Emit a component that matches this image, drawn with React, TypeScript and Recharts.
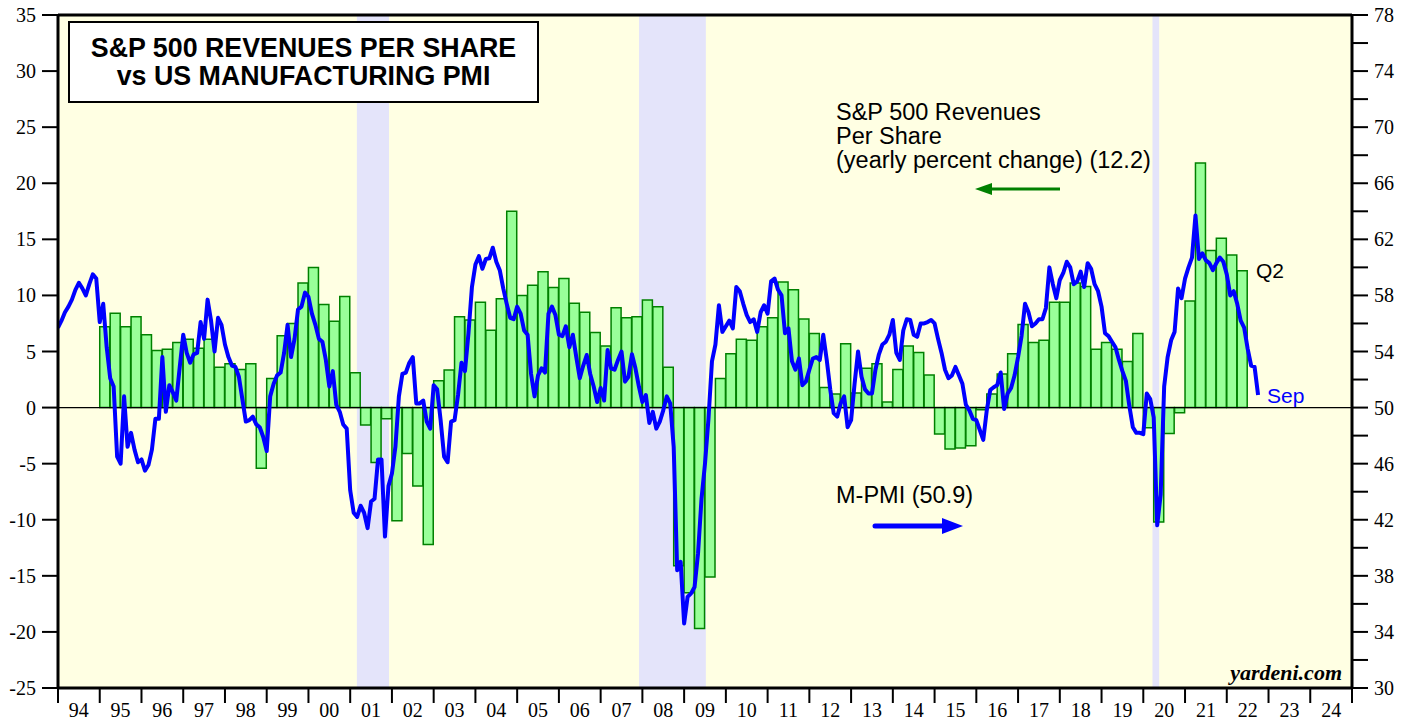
import {
  Bar,
  ComposedChart,
  Line,
  ReferenceArea,
  ReferenceLine,
  XAxis,
  YAxis,
} from "recharts";

// chart box
const W = 1414;
const H = 719;
const LEFT_W = 58;
const RIGHT_W = 62;
const TOP = 15;
const BOTTOM_H = 31;

// S&P 500 revenues per share, yearly % change, quarterly from 1995 Q1 to 2022 Q2
const REV_FIRST_YEAR = 1995;
const revenueGrowth = [
  7.2, 8.4, 7.2, 8.1, // 95
  6.5, 5.1, 5.2, 5.8, // 96
  6.1, 5.3, 6.1, 3.6, // 97
  3.9, 3.4, 3.9, -5.4, // 98
  2.6, 6.4, 7.5, 11.1, // 99
  12.5, 9.2, 7.7, 9.9, // 00
  3.1, -1.55, -4.9, -1.0, // 01
  -10.1, -4.1, -7.0, -12.2, // 02
  2.4, 3.35, 8.1, 7.8, // 03
  9.4, 6.9, 9.7, 17.5, // 04
  10.0, 10.9, 12.1, 10.7, // 05
  11.5, 9.3, 8.5, 6.7, // 06
  5.5, 8.9, 8.0, 8.1, // 07
  9.6, 9.0, 3.6, -14.1, // 08
  -16.5, -19.7, -15.1, 2.6, // 09
  4.8, 6.1, 6.0, 7.2, // 10
  8.0, 11.2, 10.5, 7.9, // 11
  6.6, 1.8, 1.2, 5.7, // 12
  1.3, 3.5, 3.9, 0.5, // 13
  3.4, 5.5, 4.9, 2.9, // 14
  -2.35, -3.7, -3.6, -3.4, // 15
  -0.2, 1.2, 3.0, 4.8, // 16
  7.4, 5.8, 6.0, 9.4, // 17
  9.4, 11.1, 10.8, 5.2, // 18
  5.8, 5.2, 4.1, 6.6, // 19
  -1.8, -10.2, -2.3, -0.45, // 20
  9.5, 21.8, 14.0, 15.1, // 21
  13.6, 12.2, // 22
];

// ISM manufacturing PMI, monthly, Dec 1993 .. Sep 2022 (plotted at month end)
const pmi = [
  55.7, // Dec 93
  56.2, 56.8, 57.2, 57.7, 58.4, 58.9, 58.5, 58.0, 58.8, 59.5, 59.2, 56.1, // 94
  57.4, 54.3, 52.1, 51.5, 46.5, 46.0, 50.8, 47.2, 48.2, 47.0, 46.1, 46.3, // 95
  45.5, 45.9, 47.0, 49.2, 49.2, 53.6, 49.7, 51.6, 51.1, 50.5, 52.9, 55.2, // 96
  53.9, 53.2, 53.8, 53.9, 56.1, 54.9, 57.7, 56.2, 54.0, 56.4, 55.9, 54.5, // 97
  53.6, 53.0, 52.9, 52.2, 50.6, 49.0, 49.1, 49.35, 48.8, 48.6, 47.9, 46.9, // 98
  50.8, 51.7, 52.3, 52.5, 53.9, 55.9, 53.6, 54.9, 57.0, 57.2, 58.2, 57.9, // 99
  56.7, 55.9, 54.9, 54.7, 53.4, 51.5, 52.6, 50.2, 49.7, 48.8, 48.5, 44.1, // 00
  42.5, 42.2, 43.0, 42.5, 41.4, 43.3, 43.5, 46.3, 46.3, 40.8, 44.4, 45.3, // 01
  47.2, 50.8, 52.4, 52.5, 53.2, 53.6, 50.3, 50.3, 50.5, 49.0, 48.5, 51.6, // 02
  51.3, 49.1, 46.5, 46.1, 49.0, 49.1, 50.9, 53.2, 52.6, 55.3, 58.6, 60.2, // 03
  60.8, 59.9, 60.6, 60.65, 61.4, 60.4, 59.8, 58.5, 57.4, 56.4, 56.3, 57.2, // 04
  56.7, 55.5, 55.2, 52.4, 50.8, 52.3, 52.8, 52.5, 56.7, 57.2, 56.6, 55.2, // 05
  55.1, 55.8, 54.3, 55.2, 53.6, 52.1, 53.0, 53.75, 52.4, 51.5, 50.4, 51.4, // 06
  50.5, 54.1, 52.8, 52.7, 53.4, 54.0, 51.85, 52.2, 53.8, 52.8, 51.5, 50.4, // 07
  50.9, 48.9, 49.7, 48.5, 49.0, 49.8, 50.8, 50.3, 47.2, 38.4, 39.0, 34.6, // 08
  36.5, 36.75, 37.2, 39.6, 43.5, 46.0, 49.2, 53.3, 54.5, 57.3, 55.4, 55.8, // 09
  56.2, 55.65, 58.6, 58.3, 57.4, 56.6, 56.1, 56.3, 55.4, 56.8, 57.3, 56.7, // 10
  59.0, 59.2, 58.4, 58.0, 55.3, 55.65, 53.3, 52.7, 53.5, 51.6, 51.85, 52.7, // 11
  53.5, 53.6, 53.4, 55.2, 53.4, 51.3, 49.6, 49.35, 50.3, 50.8, 48.6, 49.1, // 12
  51.7, 54.0, 52.2, 51.3, 51.0, 51.0, 52.7, 53.8, 54.5, 54.7, 55.2, 56.25, // 13
  53.9, 53.4, 55.5, 56.3, 56.25, 55.2, 55.05, 56.0, 56.0, 56.1, 56.25, 56.0, // 14
  54.9, 53.9, 52.7, 52.1, 52.3, 52.9, 52.3, 51.7, 50.2, 49.8, 49.2, 49.1, // 15
  48.4, 47.7, 49.8, 51.25, 51.45, 51.6, 52.5, 49.9, 51.0, 51.4, 52.3, 53.6, // 16
  55.1, 57.4, 56.8, 55.8, 56.0, 56.3, 56.3, 57.1, 60.0, 58.8, 57.8, 59.1, // 17
  59.6, 60.4, 60.0, 58.8, 59.0, 59.7, 58.6, 60.3, 59.9, 58.8, 58.3, 57.2, // 18
  55.3, 55.1, 54.7, 54.3, 53.4, 52.6, 51.9, 50.1, 48.6, 48.2, 48.2, 48.1, // 19
  51.0, 50.6, 49.3, 41.6, 43.8, 51.5, 53.6, 54.8, 55.4, 58.5, 57.8, 59.2, // 20
  60.0, 60.7, 63.7, 60.6, 61.0, 60.5, 60.3, 59.8, 60.3, 60.7, 60.4, 59.5, // 21
  58.0, 58.3, 57.4, 56.2, 55.7, 54.2, 53.0, 52.9, 50.9, // 22
];

// recessions in decimal years
const recessions = [
  { start: 2001.16, end: 2001.93 },
  { start: 2007.92, end: 2009.52 },
  { start: 2020.22, end: 2020.38 },
];

const yearTicks = [
  1994, 1995, 1996, 1997, 1998, 1999, 2000, 2001, 2002, 2003, 2004, 2005, 2006, 2007, 2008, 2009,
  2010, 2011, 2012, 2013, 2014, 2015, 2016, 2017, 2018, 2019, 2020, 2021, 2022, 2023, 2024, 2025,
];
const leftTicks = [-25, -20, -15, -10, -5, 0, 5, 10, 15, 20, 25, 30, 35];
const rightTicks = [
  30, 32, 34, 36, 38, 40, 42, 44, 46, 48, 50, 52, 54, 56, 58, 60, 62, 64, 66, 68, 70, 72, 74, 76, 78,
];

const X0 = yearTicks[0];
const X1 = yearTicks[yearTicks.length - 1];
const YEAR_PX = (W - LEFT_W - RIGHT_W) / (X1 - X0);

// quarterly rows for the bars, one band per quarter across the whole axis
const quarterRows: { quarter: string; rev: number | null }[] = [];
for (let y = X0; y < X1; y++) {
  for (let q = 1; q <= 4; q++) {
    const i = (y - REV_FIRST_YEAR) * 4 + (q - 1);
    quarterRows.push({
      quarter: `${y}Q${q}`,
      rev: i >= 0 && i < revenueGrowth.length ? revenueGrowth[i] : null,
    });
  }
}

const pmiRows = pmi.map((v, k) => ({ t: X0 + k / 12, pmi: v }));

const serif = "Liberation Serif, Times New Roman, serif";
const sans = "Liberation Sans, Arial, sans-serif";

function YearTick(props: any) {
  const { x, y, payload } = props;
  if (payload.value >= X1) return null;
  return (
    <text x={x + YEAR_PX / 2} y={y + 12} textAnchor="middle" fontSize={20} fontFamily={serif} fill="#000">
      {String(payload.value).slice(2)}
    </text>
  );
}

function LeftTick(props: any) {
  const { x, y, payload } = props;
  return (
    <text x={x} y={y} dy={7} textAnchor="end" fontSize={20} fontFamily={serif} fill="#000">
      {payload.value}
    </text>
  );
}

function RightTick(props: any) {
  const { x, y, payload } = props;
  if ((payload.value - 30) % 4 !== 0) return null;
  return (
    <text x={x} y={y} dy={7} textAnchor="start" fontSize={20} fontFamily={serif} fill="#000">
      {payload.value}
    </text>
  );
}

function Annotations() {
  return (
    <svg
      width={W}
      height={H}
      style={{ position: "absolute", left: 0, top: 0, pointerEvents: "none" }}
    >
      <rect x={69} y={22} width={469} height={80} fill="#fff" stroke="#000" strokeWidth={2} />
      <text x={303.5} y={57} textAnchor="middle" fontFamily={sans} fontWeight="bold" fontSize={26.8}>
        S&amp;P 500 REVENUES PER SHARE
      </text>
      <text x={303.5} y={85} textAnchor="middle" fontFamily={sans} fontWeight="bold" fontSize={26.8}>
        vs US MANUFACTURING PMI
      </text>

      <g fontFamily={sans} fontSize={23.5} fill="#000">
        <text x={836} y={120}>S&amp;P 500 Revenues</text>
        <text x={836} y={144}>Per Share</text>
        <text x={836} y={168}>(yearly percent change) (12.2)</text>
        <text x={836} y={503}>M-PMI (50.9)</text>
        <text x={1256} y={278} fontSize={21}>Q2</text>
        <text x={1267} y={403} fontSize={21} fill="#0000ff">Sep</text>
      </g>

      <line x1={1060} y1={189} x2={990} y2={189} stroke="#008000" strokeWidth={3} />
      <polygon points="975,189 992,183 992,195" fill="#008000" />

      <line x1={875} y1={526} x2={945} y2={526} stroke="#0000ff" strokeWidth={5} strokeLinecap="round" />
      <polygon points="963,526 942,518 942,534" fill="#0000ff" />

      <text
        x={1342}
        y={680}
        textAnchor="end"
        fontFamily={serif}
        fontWeight="bold"
        fontStyle="italic"
        fontSize={22}
      >
        yardeni.com
      </text>
    </svg>
  );
}

export default function App() {
  return (
    <div
      style={{
        position: "absolute",
        left: 0,
        top: 0,
        width: W,
        height: H,
        overflow: "hidden",
        background: "#fff",
      }}
    >
      <ComposedChart
        width={W}
        height={H}
        data={quarterRows}
        margin={{ top: TOP, right: 0, bottom: 0, left: 0 }}
        barCategoryGap={0}
        barGap={0}
      >
        <XAxis
          xAxisId="t"
          dataKey="t"
          type="number"
          domain={[X0, X1]}
          ticks={yearTicks}
          interval={0}
          allowDataOverflow
          height={BOTTOM_H}
          axisLine={{ stroke: "#000", strokeWidth: 3 }}
          tickLine={{ stroke: "#000", strokeWidth: 2 }}
          tickSize={15}
          tickMargin={2}
          tick={<YearTick />}
        />
        <XAxis xAxisId="q" dataKey="quarter" type="category" height={0} hide />
        <YAxis
          yAxisId="left"
          domain={[-25, 35]}
          ticks={leftTicks}
          interval={0}
          allowDataOverflow
          width={LEFT_W}
          axisLine={{ stroke: "#000", strokeWidth: 3 }}
          tickLine={{ stroke: "#000", strokeWidth: 2 }}
          tickSize={16}
          tickMargin={6}
          tick={<LeftTick />}
        />
        <YAxis
          yAxisId="right"
          orientation="right"
          domain={[30, 78]}
          ticks={rightTicks}
          interval={0}
          allowDataOverflow
          width={RIGHT_W}
          axisLine={{ stroke: "#000", strokeWidth: 3 }}
          tickLine={{ stroke: "#000", strokeWidth: 2 }}
          tickSize={16}
          tickMargin={6}
          tick={<RightTick />}
        />

        <ReferenceArea
          xAxisId="t"
          yAxisId="left"
          x1={X0}
          x2={X1}
          y1={-25}
          y2={35}
          fill="#ffffe3"
          fillOpacity={1}
          stroke="none"
        />
        {recessions.map((r) => (
          <ReferenceArea
            key={r.start}
            xAxisId="t"
            yAxisId="left"
            x1={r.start}
            x2={r.end}
            y1={-25}
            y2={35}
            fill="#e4e4fa"
            fillOpacity={1}
            stroke="none"
          />
        ))}

        <Bar
          xAxisId="q"
          yAxisId="left"
          dataKey="rev"
          fill="#99ff99"
          stroke="#008000"
          strokeWidth={1.5}
          isAnimationActive={false}
        />
        <ReferenceLine xAxisId="t" yAxisId="left" y={0} stroke="#000" strokeWidth={1.2} />
        <ReferenceLine xAxisId="t" yAxisId="left" y={35} stroke="#000" strokeWidth={3} />
        <Line
          xAxisId="t"
          yAxisId="right"
          data={pmiRows}
          dataKey="pmi"
          type="linear"
          stroke="#0000ff"
          strokeWidth={4}
          strokeLinejoin="round"
          dot={false}
          activeDot={false}
          isAnimationActive={false}
        />
      </ComposedChart>
      <Annotations />
    </div>
  );
}
